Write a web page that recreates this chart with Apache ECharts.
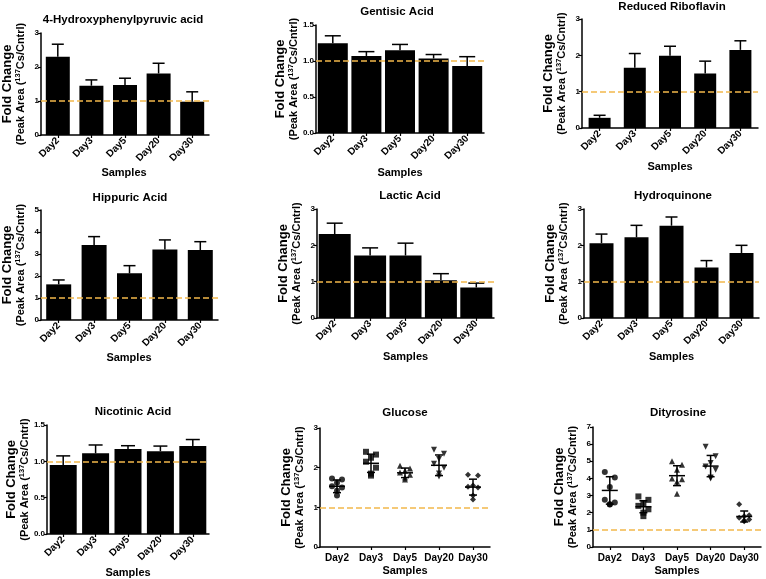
<!DOCTYPE html>
<html><head><meta charset="utf-8">
<script src="https://cdn.jsdelivr.net/npm/echarts/dist/echarts.min.js"></script>
<style>html,body{margin:0;padding:0;background:#fff}#c{width:766px;height:579px}</style>
</head><body><div id="c"></div>
<script>
// ---------- DATA ----------
const categories = ['Day2', 'Day3', 'Day5', 'Day20', 'Day30'];
const refLevel = 1;

// Bar panels: mean fold change and upper end of error bar
const hppaMean = [2.30, 1.45, 1.47, 1.81, 0.98];
const hppaUpper = [2.67, 1.62, 1.67, 2.11, 1.27];
const gentisicMean = [1.245, 1.07, 1.15, 1.035, 0.93];
const gentisicUpper = [1.35, 1.13, 1.23, 1.09, 1.06];
const riboflavinMean = [0.28, 1.66, 1.99, 1.50, 2.15];
const riboflavinUpper = [0.35, 2.05, 2.25, 1.84, 2.40];
const hippuricMean = [1.62, 3.41, 2.12, 3.21, 3.18];
const hippuricUpper = [1.82, 3.79, 2.47, 3.64, 3.56];
const lacticMean = [2.31, 1.72, 1.72, 1.04, 0.84];
const lacticUpper = [2.61, 1.93, 2.06, 1.22, 0.96];
const hydroquinoneMean = [2.06, 2.22, 2.54, 1.39, 1.79];
const hydroquinoneUpper = [2.31, 2.55, 2.78, 1.58, 2.00];
const nicotinicMean = [0.95, 1.11, 1.17, 1.14, 1.21];
const nicotinicUpper = [1.075, 1.225, 1.215, 1.21, 1.30];

// Scatter panels: individual points, mean and SD per day
const glucoseDay2 = [1.73, 1.70, 1.62, 1.53, 1.50, 1.42, 1.30];
const glucoseDay3 = [2.40, 2.33, 2.25, 2.15, 2.00, 1.85, 1.80];
const glucoseDay5 = [2.05, 1.98, 1.92, 1.88, 1.82, 1.75, 1.70];
const glucoseDay20 = [2.45, 2.35, 2.22, 2.10, 2.00, 1.85, 1.78];
const glucoseDay30 = [1.82, 1.80, 1.55, 1.52, 1.50, 1.30, 1.20];
const glucoseMean = [1.53, 2.11, 1.87, 2.06, 1.51];
const glucoseSD = [0.16, 0.23, 0.12, 0.26, 0.20];

const dityrosineDay2 = [4.38, 4.05, 3.50, 2.75, 2.60, 2.50, 2.48];
const dityrosineDay3 = [2.95, 2.75, 2.55, 2.40, 2.20, 2.00, 1.80];
const dityrosineDay5 = [5.00, 4.80, 4.50, 4.00, 3.95, 3.80, 3.10];
const dityrosineDay20 = [5.85, 5.30, 4.90, 4.70, 4.50, 4.05, 4.00];
const dityrosineDay30 = [2.50, 1.85, 1.80, 1.70, 1.60, 1.55, 1.50];
const dityrosineMean = [3.30, 2.35, 4.16, 4.72, 1.78];
const dityrosineSD = [0.80, 0.35, 0.58, 0.62, 0.32];

const xAxisTitle = 'Samples';

// ---------- LAYOUT / STYLE ----------
const FONT = '"Liberation Sans", Arial, sans-serif';
const panels = [
  {title: '4-Hydroxyphenylpyruvic acid', kind: 'bar', mean: hppaMean, upper: hppaUpper, max: 3, interval: 1, dec: 0,
   box: [39, 33, 170, 102], barW: 24, tx: 123, ty: 20, sy: 173},
  {title: 'Gentisic Acid', kind: 'bar', mean: gentisicMean, upper: gentisicUpper, max: 1.5, interval: 0.5, dec: 1,
   box: [316, 25, 168, 108], barW: 30, tx: 397, ty: 12, sy: 173},
  {title: 'Reduced Riboflavin', kind: 'bar', mean: riboflavinMean, upper: riboflavinUpper, max: 3, interval: 1, dec: 0,
   box: [582, 19, 176, 109], barW: 22, tx: 672, ty: 7, sy: 167},
  {title: 'Hippuric Acid', kind: 'bar', mean: hippuricMean, upper: hippuricUpper, max: 5, interval: 1, dec: 0,
   box: [40, 210, 178, 110], barW: 25, tx: 130, ty: 198, sy: 358},
  {title: 'Lactic Acid', kind: 'bar', mean: lacticMean, upper: lacticUpper, max: 3, interval: 1, dec: 0,
   box: [317, 209, 177, 109], barW: 32, tx: 410, ty: 196, sy: 357},
  {title: 'Hydroquinone', kind: 'bar', mean: hydroquinoneMean, upper: hydroquinoneUpper, max: 3, interval: 1, dec: 0,
   box: [584, 209, 175, 109], barW: 24, tx: 673, ty: 196, sy: 357},
  {title: 'Nicotinic Acid', kind: 'bar', mean: nicotinicMean, upper: nicotinicUpper, max: 1.5, interval: 0.5, dec: 1,
   box: [47, 425, 162, 109], barW: 27, tx: 133, ty: 412, sy: 573},
  {title: 'Glucose', kind: 'dot', groups: [glucoseDay2, glucoseDay3, glucoseDay5, glucoseDay20, glucoseDay30],
   mean: glucoseMean, sd: glucoseSD, max: 3, interval: 1, dec: 0,
   box: [320, 428, 170, 119], tx: 405, ty: 413, sy: 571},
  {title: 'Dityrosine', kind: 'dot', groups: [dityrosineDay2, dityrosineDay3, dityrosineDay5, dityrosineDay20, dityrosineDay30],
   mean: dityrosineMean, sd: dityrosineSD, max: 7, interval: 1, dec: 0,
   box: [593, 427, 168, 120], tx: 678, ty: 413, sy: 571}
];
const symbols = ['circle', 'rect', 'triangle', 'triangle', 'diamond'];
const symbolRot = [0, 0, 0, 180, 0];
const jitterPx = [-5, 5, 0, -5, 5, 0, 0];

const grid = [], xAxis = [], yAxis = [], series = [], graphic = [];
const refLine = {
  silent: true, symbol: 'none', label: {show: false},
  lineStyle: {color: '#f2b84b', type: 'dashed', width: 1.5},
  data: [{yAxis: refLevel}]
};
const blackLine = {stroke: '#000', lineWidth: 1.5};

panels.forEach((p, i) => {
  grid.push({left: p.box[0], top: p.box[1], width: p.box[2], height: p.box[3], containLabel: false});
  const isBar = p.kind === 'bar';
  const lab = {interval: 0, margin: isBar ? 4 : 6, color: '#000', fontSize: 10, fontWeight: 'bold', fontFamily: FONT};
  if (isBar) lab.rotate = 45;
  xAxis.push({
    type: 'category', gridIndex: i, data: categories,
    axisLine: {lineStyle: {color: '#000', width: 1.5}},
    axisTick: {show: true, alignWithLabel: true, length: 3, lineStyle: {color: '#000', width: 1.2}},
    axisLabel: lab
  });
  yAxis.push({
    type: 'value', gridIndex: i, min: 0, max: p.max, interval: p.interval,
    splitLine: {show: false},
    axisLine: {show: true, lineStyle: {color: '#000', width: 1.5}},
    axisTick: {show: true, length: 3, lineStyle: {color: '#000', width: 1.2}},
    axisLabel: {color: '#000', fontSize: 8, fontWeight: 'bold', margin: 2,
      formatter: v => v.toFixed(p.dec)},
    name: '{a|Fold Change}\n{b|(Peak Area (}{s|137}{b|Cs/Cntrl)}',
    nameLocation: 'middle', nameRotate: 90, nameGap: 14,
    nameTextStyle: {color: '#000', rich: {
      a: {fontSize: 13, fontWeight: 'bold', lineHeight: 13, color: '#000'},
      b: {fontSize: 11, fontWeight: 'bold', lineHeight: 13, color: '#000'},
      s: {fontSize: 7.5, fontWeight: 'bold', lineHeight: 8, verticalAlign: 'top', color: '#000'}
    }}
  });
  graphic.push({type: 'text', x: p.tx, y: p.ty, style: {text: p.title, fill: '#000',
    font: 'bold 11.5px ' + FONT, align: 'center', verticalAlign: 'middle'}});
  graphic.push({type: 'text', x: p.box[0] + p.box[2] / 2, y: p.sy, style: {text: xAxisTitle, fill: '#000',
    font: 'bold 11px ' + FONT, align: 'center', verticalAlign: 'middle'}});

  if (isBar) {
    series.push({type: 'bar', xAxisIndex: i, yAxisIndex: i, data: p.mean, barWidth: p.barW,
      itemStyle: {color: '#000'}, markLine: refLine});
    const capHalf = Math.round(p.barW / 4);
    series.push({type: 'custom', xAxisIndex: i, yAxisIndex: i,
      data: categories.map((c, j) => [j, p.mean[j], p.upper[j]]),
      renderItem: (params, api) => {
        const a = api.coord([api.value(0), api.value(1)]);
        const b = api.coord([api.value(0), api.value(2)]);
        return {type: 'group', children: [
          {type: 'line', shape: {x1: a[0], y1: a[1], x2: b[0], y2: b[1]}, style: blackLine},
          {type: 'line', shape: {x1: b[0] - capHalf, y1: b[1], x2: b[0] + capHalf, y2: b[1]}, style: blackLine}
        ]};
      }});
  } else {
    p.groups.forEach((g, j) => {
      series.push({type: 'scatter', xAxisIndex: i, yAxisIndex: i, symbol: symbols[j], symbolRotate: symbolRot[j],
        symbolSize: 6, itemStyle: {color: '#000'},
        data: g.map((v, k) => ({value: [j, v], symbolOffset: [jitterPx[k % jitterPx.length], 0]})),
        markLine: j === 0 ? refLine : undefined});
    });
    series.push({type: 'custom', xAxisIndex: i, yAxisIndex: i,
      data: categories.map((c, j) => [j, p.mean[j], p.sd[j]]),
      renderItem: (params, api) => {
        const x = api.value(0), m = api.value(1), s = api.value(2);
        const c = api.coord([x, m]);
        const hi = api.coord([x, m + s]);
        const lo = api.coord([x, m - s]);
        return {type: 'group', children: [
          {type: 'line', shape: {x1: c[0] - 8, y1: c[1], x2: c[0] + 8, y2: c[1]}, style: blackLine},
          {type: 'line', shape: {x1: hi[0], y1: hi[1], x2: lo[0], y2: lo[1]}, style: blackLine},
          {type: 'line', shape: {x1: hi[0] - 4, y1: hi[1], x2: hi[0] + 4, y2: hi[1]}, style: blackLine},
          {type: 'line', shape: {x1: lo[0] - 4, y1: lo[1], x2: lo[0] + 4, y2: lo[1]}, style: blackLine}
        ]};
      }});
  }
});

const chart = echarts.init(document.getElementById('c'));
chart.setOption({animation: false, grid, xAxis, yAxis, series, graphic});
</script>
</body></html>
